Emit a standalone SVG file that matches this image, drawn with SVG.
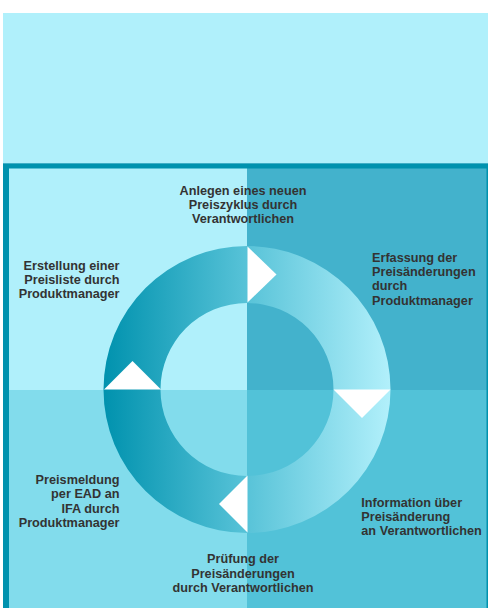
<svg xmlns="http://www.w3.org/2000/svg" width="488" height="608" viewBox="0 0 488 608">
  <defs>
    <linearGradient id="ringGrad" gradientUnits="userSpaceOnUse" x1="103.5" y1="0" x2="390.5" y2="0">
      <stop offset="0" stop-color="#0092AE"/>
      <stop offset="0.5" stop-color="#58C3D8"/>
      <stop offset="1" stop-color="#B2F0FB"/>
    </linearGradient>
    <style>
      .lbl { font-family: "Liberation Sans", Arial, sans-serif; font-weight: bold; font-size: 12.7px; fill: #333333; }
      .mid { text-anchor: middle; }
      .end { text-anchor: end; }
      .arrow { fill: #FFFFFF; }
    </style>
  </defs>

  <rect width="488" height="608" fill="#FFFFFF"/>

  <g id="background">
    <rect x="3" y="13" width="485" height="150" fill="#B0F0FB"/>
    <rect x="3" y="163" width="485" height="445" fill="#0092AE"/>
    <rect x="3" y="163" width="485" height="1" fill="#3FAFC7"/>
    <rect x="9" y="168.5" width="238" height="221.5" fill="#B0F0FB"/>
    <rect x="247" y="168.5" width="239.5" height="221.5" fill="#43B2CC"/>
    <rect x="9" y="390" width="238" height="218" fill="#82DCEC"/>
    <rect x="247" y="390" width="239.5" height="218" fill="#52C2D8"/>
  </g>

  <g id="ring">
    <path fill="url(#ringGrad)" fill-rule="evenodd"
      d="M247 246 A143.5 143.5 0 1 1 247 533 A143.5 143.5 0 1 1 247 246 Z
         M247 303 A86.5 86.5 0 1 0 247 476 A86.5 86.5 0 1 0 247 303 Z"/>
  </g>

  <g id="connectors">
    <polygon class="arrow" points="247.5,246.5 247.5,302.5 276.5,274.5"/>
    <polygon class="arrow" points="333.5,389.5 390.5,389.5 362,418"/>
    <polygon class="arrow" points="247.5,475.5 247.5,532.5 219,504"/>
    <polygon class="arrow" points="104,389.5 161,389.5 132.5,361"/>
  </g>

  <g id="node-anlegen">
    <text class="lbl mid" x="243" y="195">Anlegen eines neuen</text>
    <text class="lbl mid" x="243" y="209">Preiszyklus durch</text>
    <text class="lbl mid" x="243" y="223">Verantwortlichen</text>
  </g>

  <g id="node-erfassung">
    <text class="lbl" x="372" y="261.7">Erfassung der</text>
    <text class="lbl" x="372" y="276">Preisänderungen</text>
    <text class="lbl" x="372" y="290.3">durch</text>
    <text class="lbl" x="372" y="304.6">Produktmanager</text>
  </g>

  <g id="node-information">
    <text class="lbl" x="361.3" y="506.7">Information über</text>
    <text class="lbl" x="361.3" y="521">Preisänderung</text>
    <text class="lbl" x="361.3" y="535.3">an Verantwortlichen</text>
  </g>

  <g id="node-pruefung">
    <text class="lbl mid" x="243" y="563.3">Prüfung der</text>
    <text class="lbl mid" x="243" y="577.7">Preisänderungen</text>
    <text class="lbl mid" x="243" y="592.2">durch Verantwortlichen</text>
  </g>

  <g id="node-preismeldung">
    <text class="lbl end" x="119.5" y="484.3">Preismeldung</text>
    <text class="lbl end" x="119.5" y="498.4">per EAD an</text>
    <text class="lbl end" x="119.5" y="512.6">IFA durch</text>
    <text class="lbl end" x="119.5" y="526.7">Produktmanager</text>
  </g>

  <g id="node-erstellung">
    <text class="lbl end" x="119.5" y="270">Erstellung einer</text>
    <text class="lbl end" x="119.5" y="284">Preisliste durch</text>
    <text class="lbl end" x="119.5" y="298">Produktmanager</text>
  </g>
</svg>
